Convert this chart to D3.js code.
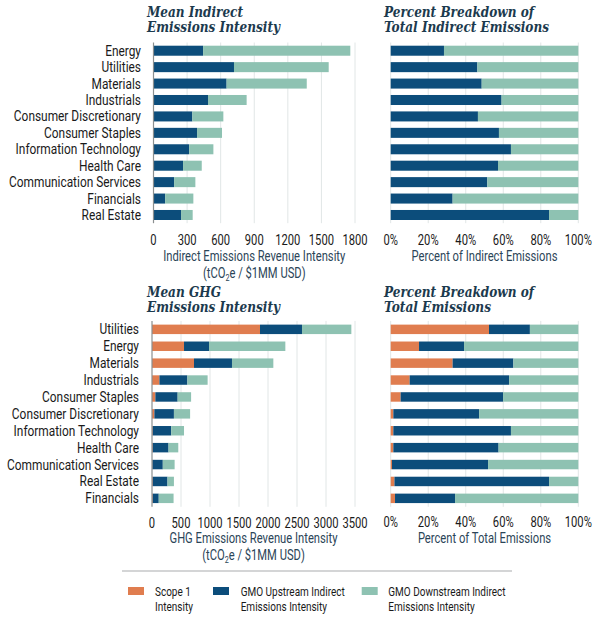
<!DOCTYPE html>
<html><head><meta charset="utf-8">
<script src="https://cdn.jsdelivr.net/npm/d3@7"></script>
<style>
html,body{margin:0;padding:0;background:#fff;}
svg{display:block;}
</style></head>
<body>
<svg id="c" width="604" height="621"></svg>
<script>
// ---------- DATA ----------
const indirectCats = ["Energy","Utilities","Materials","Industrials","Consumer Discretionary","Consumer Staples","Information Technology","Health Care","Communication Services","Financials","Real Estate"];
const indirectUpstream   = [443, 719, 653, 487, 347, 389, 318, 264, 184, 104, 246];
const indirectDownstream = [1315, 846, 716, 345, 277, 223, 217, 167, 190, 252, 104];
const indirectUpstreamPct = [28.4, 46.2, 48.5, 59.1, 46.5, 57.7, 64.1, 57.2, 51.5, 33.0, 84.4];

const ghgCats = ["Utilities","Energy","Materials","Industrials","Consumer Staples","Consumer Discretionary","Information Technology","Health Care","Communication Services","Real Estate","Financials"];
const ghgScope1     = [1862, 552, 724, 128, 58, 41, 12, 12, 6, 12, 12];
const ghgUpstream   = [724, 431, 655, 482, 384, 337, 319, 273, 180, 255, 104];
const ghgDownstream = [851, 1316, 713, 349, 232, 279, 221, 168, 204, 111, 256];
const ghgScope1Pct   = [52.4, 15.1, 33.0, 10.1, 5.3, 1.4, 1.4, 1.4, 0.7, 2.0, 2.3];
const ghgUpstreamPct = [21.8, 24.0, 32.4, 53.0, 54.6, 45.7, 62.7, 56.1, 51.2, 82.4, 32.0];

const ticksIndirect = [0, 300, 600, 900, 1200, 1500, 1800];
const ticksGhg = [0, 500, 1000, 1500, 2000, 2500, 3000, 3500];
const ticksPct = [0, 20, 40, 60, 80, 100];

const seriesNames = ["Scope 1|Intensity", "GMO Upstream Indirect|Emissions Intensity", "GMO Downstream Indirect|Emissions Intensity"];
const colors = ["#e07d4f", "#0c4d7b", "#8ec2b2"];

// ---------- HELPERS ----------
const svg = d3.select("#c");
const SANS = "Roboto, 'Noto Sans', sans-serif";
const SERIF = "'DejaVu Serif', 'Liberation Serif', serif";
const COND = 0.8;

function condense(sel, f) {
  sel.each(function() {
    const w = this.getComputedTextLength();
    d3.select(this).attr("textLength", w * f).attr("lengthAdjust", "spacingAndGlyphs");
  });
}

function title(x, y, lines, widths) {
  lines.forEach((l, i) => {
    const t = svg.append("text").attr("x", x).attr("y", y + i * 15)
      .attr("font-family", SERIF).attr("font-style", "italic").attr("font-weight", "bold")
      .attr("font-size", 14).attr("fill", "#1c3a4e").text(l);
    t.attr("textLength", widths[i]).attr("lengthAdjust", "spacingAndGlyphs");
  });
}

function panel(opts) {
  const { cats, stacks, domain, xr, yr, pad, ticks, fmt, labelX, tickY, axisTitle, titleY, showAxisLine } = opts;
  const x = d3.scaleLinear().domain(domain).range(xr);
  const y = d3.scaleBand().domain(cats).range(yr).paddingInner(pad).paddingOuter(pad / 2);
  const g = svg.append("g");
  // gridlines
  g.selectAll("line.grid").data(ticks.filter(t => t !== 0 || !showAxisLine)).join("line")
    .attr("x1", d => x(d)).attr("x2", d => x(d))
    .attr("y1", yr[0]).attr("y2", yr[1])
    .attr("stroke", "#e1e6e6").attr("stroke-width", 1);
  // bars
  stacks.forEach((s, si) => {
    g.selectAll(null).data(cats).join("rect")
      .attr("x", (d, i) => x(s.start[i]))
      .attr("width", (d, i) => Math.max(0, x(s.start[i] + s.vals[i]) - x(s.start[i])))
      .attr("y", d => y(d)).attr("height", y.bandwidth())
      .attr("fill", colors[s.color]);
  });
  if (showAxisLine) {
    g.append("line").attr("x1", x(0)).attr("x2", x(0)).attr("y1", yr[0]).attr("y2", yr[1])
      .attr("stroke", "#8a8f90").attr("stroke-width", 1.2);
  }
  // category labels
  if (labelX != null) {
    const lab = g.selectAll("text.cat").data(cats).join("text")
      .attr("x", labelX).attr("y", d => y(d) + y.bandwidth() / 2 + 5)
      .attr("text-anchor", "end").attr("font-family", SANS).attr("font-size", 14.5)
      .attr("fill", "#1a1a1a").text(d => d);
    condense(lab, 0.82);
  }
  // tick labels
  const tl = g.selectAll("text.tick").data(ticks).join("text")
    .attr("x", d => x(d)).attr("y", tickY)
    .attr("text-anchor", "middle").attr("font-family", SANS).attr("font-size", 14)
    .attr("fill", "#1a1a1a").text(fmt);
  condense(tl, COND);
  // axis title
  const cx = (xr[0] + xr[1]) / 2;
  axisTitle.forEach((line, i) => {
    const t = g.append("text").attr("x", cx).attr("y", titleY + i * 17)
      .attr("text-anchor", "middle").attr("font-family", SANS).attr("font-size", 14)
      .attr("fill", "#2b4558");
    if (line === "__CO2__") {
      t.append("tspan").text("(tCO");
      t.append("tspan").attr("font-size", 9).attr("dy", 3).text("2");
      t.append("tspan").attr("dy", -3).text("e / $1MM USD)");
      t.attr("transform", `translate(${cx},0) scale(${COND},1) translate(${-cx},0)`);
    } else {
      t.text(line);
      condense(t, COND);
    }
  });
}

function cumul(arrs) {
  const starts = arrs.map(() => []);
  for (let i = 0; i < arrs[0].length; i++) {
    let acc = 0;
    arrs.forEach((a, k) => { starts[k][i] = acc; acc += a[i]; });
  }
  return starts;
}

// ---------- TITLES ----------
title(147, 17, ["Mean Indirect", "Emissions Intensity"], [96, 133]);
title(384, 17, ["Percent Breakdown of", "Total Indirect Emissions"], [150, 165]);
title(147, 297, ["Mean GHG", "Emissions Intensity"], [74, 133]);
title(384, 297, ["Percent Breakdown of", "Total Emissions"], [150, 107]);

// ---------- PANEL 1 ----------
{
  const st = cumul([indirectUpstream, indirectDownstream]);
  panel({
    cats: indirectCats,
    stacks: [{ vals: indirectUpstream, start: st[0], color: 1 }, { vals: indirectDownstream, start: st[1], color: 2 }],
    domain: [0, 1800], xr: [153.5, 355], yr: [42.5, 223.2], pad: 0.39,
    ticks: ticksIndirect, fmt: d => d, labelX: 141, tickY: 245,
    axisTitle: ["Indirect Emissions Revenue Intensity", "__CO2__"], titleY: 261, showAxisLine: true
  });
}
// ---------- PANEL 2 ----------
{
  const down = indirectUpstreamPct.map(v => 100 - v);
  const st = cumul([indirectUpstreamPct, down]);
  panel({
    cats: indirectCats,
    stacks: [{ vals: indirectUpstreamPct, start: st[0], color: 1 }, { vals: down, start: st[1], color: 2 }],
    domain: [0, 100], xr: [390.7, 578.3], yr: [42.5, 223.2], pad: 0.39,
    ticks: ticksPct, fmt: d => d + "%", labelX: null, tickY: 245,
    axisTitle: ["Percent of Indirect Emissions"], titleY: 261, showAxisLine: false
  });
}
// ---------- PANEL 3 ----------
{
  const st = cumul([ghgScope1, ghgUpstream, ghgDownstream]);
  panel({
    cats: ghgCats,
    stacks: [{ vals: ghgScope1, start: st[0], color: 0 }, { vals: ghgUpstream, start: st[1], color: 1 }, { vals: ghgDownstream, start: st[2], color: 2 }],
    domain: [0, 3500], xr: [152, 355], yr: [320.9, 506.8], pad: 0.44,
    ticks: ticksGhg, fmt: d => d, labelX: 139, tickY: 528,
    axisTitle: ["GHG Emissions Revenue Intensity", "__CO2__"], titleY: 543, showAxisLine: true
  });
}
// ---------- PANEL 4 ----------
{
  const down = ghgScope1Pct.map((v, i) => 100 - v - ghgUpstreamPct[i]);
  const st = cumul([ghgScope1Pct, ghgUpstreamPct, down]);
  panel({
    cats: ghgCats,
    stacks: [{ vals: ghgScope1Pct, start: st[0], color: 0 }, { vals: ghgUpstreamPct, start: st[1], color: 1 }, { vals: down, start: st[2], color: 2 }],
    domain: [0, 100], xr: [390.7, 578.3], yr: [320.9, 506.8], pad: 0.44,
    ticks: ticksPct, fmt: d => d + "%", labelX: null, tickY: 527,
    axisTitle: ["Percent of Total Emissions"], titleY: 543, showAxisLine: false
  });
}

// ---------- LEGEND ----------
svg.append("line").attr("x1", 122).attr("x2", 512).attr("y1", 571).attr("y2", 571)
  .attr("stroke", "#a9acad").attr("stroke-width", 1.2);
const legX = [128, 213, 361.7];
const legTX = [155, 240.7, 388.3];
seriesNames.forEach((n, i) => {
  svg.append("rect").attr("x", legX[i]).attr("y", 587).attr("width", 16).attr("height", 8).attr("fill", colors[i]);
  n.split("|").forEach((line, j) => {
    const t = svg.append("text").attr("x", legTX[i]).attr("y", 596 + j * 14.5)
      .attr("font-family", SANS).attr("font-size", 13.5).attr("fill", "#1a1a1a").text(line);
    condense(t, 0.74);
  });
});
</script>
</body></html>
